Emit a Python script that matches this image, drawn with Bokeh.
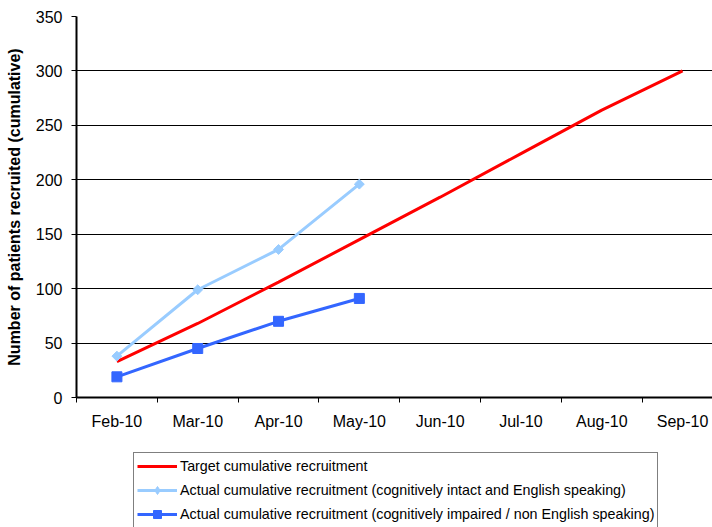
import math
from bokeh.plotting import figure
from bokeh.layouts import column
from bokeh.models import FixedTicker, Legend, LegendItem, Range1d
from bokeh.embed import file_html
from bokeh.resources import INLINE

months = ["Feb-10", "Mar-10", "Apr-10", "May-10", "Jun-10", "Jul-10", "Aug-10", "Sep-10"]
target = [33, 68, 106, 145, 184, 224, 264, 300]
intact_months = ["Feb-10", "Mar-10", "Apr-10", "May-10"]
intact = [38, 99, 136, 196]
impaired = [19, 45, 70, 91]
y_ticks = [0, 50, 100, 150, 200, 250, 300, 350]
labels = ["Target cumulative recruitment",
          "Actual cumulative recruitment (cognitively intact and English speaking)",
          "Actual cumulative recruitment (cognitively impaired / non English speaking)"]

RED, LIGHT, BLUE = "#FF0000", "#99CCFF", "#3366FF"

pos = {m: i + 0.5 for i, m in enumerate(months)}
x_t = [pos[m] for m in months]
x_a = [pos[m] for m in intact_months]

FONT = "Liberation Sans"

p = figure(width=712, height=452, output_backend="svg", toolbar_location=None,
           x_range=Range1d(0, 7.87), y_range=Range1d(0, 350),
           min_border_left=76, min_border_right=0, min_border_top=16, min_border_bottom=55)
p.outline_line_color = None
p.background_fill_color = "white"
p.border_fill_color = "white"

# x axis: labels at category centres, tick marks at boundaries
p.xaxis.ticker = FixedTicker(ticks=x_t, minor_ticks=list(range(len(months) + 1)))
p.xaxis.major_label_overrides = {pos[m]: m for m in months}
p.xaxis.major_tick_out = 0
p.xaxis.major_tick_in = 0
p.xaxis.minor_tick_out = 5
p.xaxis.minor_tick_in = 0
p.xaxis.minor_tick_line_color = "black"
p.xaxis.major_label_standoff = 10
p.xaxis.axis_line_width = 2
p.xaxis.axis_line_color = "black"
p.xaxis.major_label_text_font = FONT
p.xaxis.major_label_text_font_size = "16px"
p.xaxis.major_label_text_color = "black"

p.yaxis.ticker = FixedTicker(ticks=y_ticks)
p.yaxis.minor_tick_line_color = None
p.yaxis.major_tick_out = 5
p.yaxis.major_tick_in = 0
p.yaxis.major_tick_line_color = "black"
p.yaxis.axis_line_width = 2
p.yaxis.axis_line_color = "black"
p.yaxis.major_label_standoff = 9
p.yaxis.major_label_text_font = FONT
p.yaxis.major_label_text_font_size = "16px"
p.yaxis.major_label_text_color = "black"
p.yaxis.axis_label = "Number of patients recruited (cumulative)"
p.yaxis.axis_label_text_font = FONT
p.yaxis.axis_label_text_font_style = "bold"
p.yaxis.axis_label_text_font_size = "16px"
p.yaxis.axis_label_text_color = "black"
p.yaxis.axis_label_standoff = 10

p.xgrid.grid_line_color = None
p.ygrid.ticker = FixedTicker(ticks=y_ticks[1:])
p.ygrid.grid_line_color = "black"
p.ygrid.grid_line_width = 1

p.line(x_t, target, line_color=RED, line_width=3)
p.line(x_a, intact, line_color=LIGHT, line_width=3)
p.scatter(x_a, intact, marker="square", angle=math.pi / 4, size=7, fill_color=LIGHT, line_color=LIGHT)
p.line(x_a, impaired, line_color=BLUE, line_width=3)
p.scatter(x_a, impaired, marker="square", size=10, fill_color=BLUE, line_color=BLUE)

# legend strip below the chart (its own renderers sit outside its visible range)
q = figure(width=712, height=75, output_backend="svg", toolbar_location=None,
           x_axis_type=None, y_axis_type=None, x_range=Range1d(0, 1), y_range=Range1d(-2, -1),
           min_border_left=0, min_border_right=0, min_border_top=0, min_border_bottom=0)
q.outline_line_color = None
q.xgrid.grid_line_color = None
q.ygrid.grid_line_color = None
d_t = q.line(x_t, target, line_color=RED, line_width=3)
d_i = q.line(x_a, intact, line_color=LIGHT, line_width=3)
d_is = q.scatter(x_a, intact, marker="diamond", size=10, fill_color=LIGHT, line_color=LIGHT)
d_m = q.line(x_a, impaired, line_color=BLUE, line_width=3)
d_ms = q.scatter(x_a, impaired, marker="square", size=7, fill_color=BLUE, line_color=BLUE)

legend = Legend(items=[
    LegendItem(label=labels[0], renderers=[d_t]),
    LegendItem(label=labels[1], renderers=[d_i, d_is]),
    LegendItem(label=labels[2], renderers=[d_m, d_ms]),
], location=(57, -1))
legend.border_line_color = "black"
legend.border_line_width = 1
legend.background_fill_alpha = 1
legend.padding = 3
legend.spacing = 4
legend.margin = 0
legend.glyph_width = 40
legend.glyph_height = 20
legend.label_height = 20
legend.label_standoff = 3
legend.label_text_font = FONT
legend.label_text_font_size = "14.3px"
legend.label_text_color = "black"
legend.label_text_baseline = "middle"
q.add_layout(legend, "center")

layout = column(p, q, spacing=0)
open("out.html", "w").write(file_html(layout, INLINE))
